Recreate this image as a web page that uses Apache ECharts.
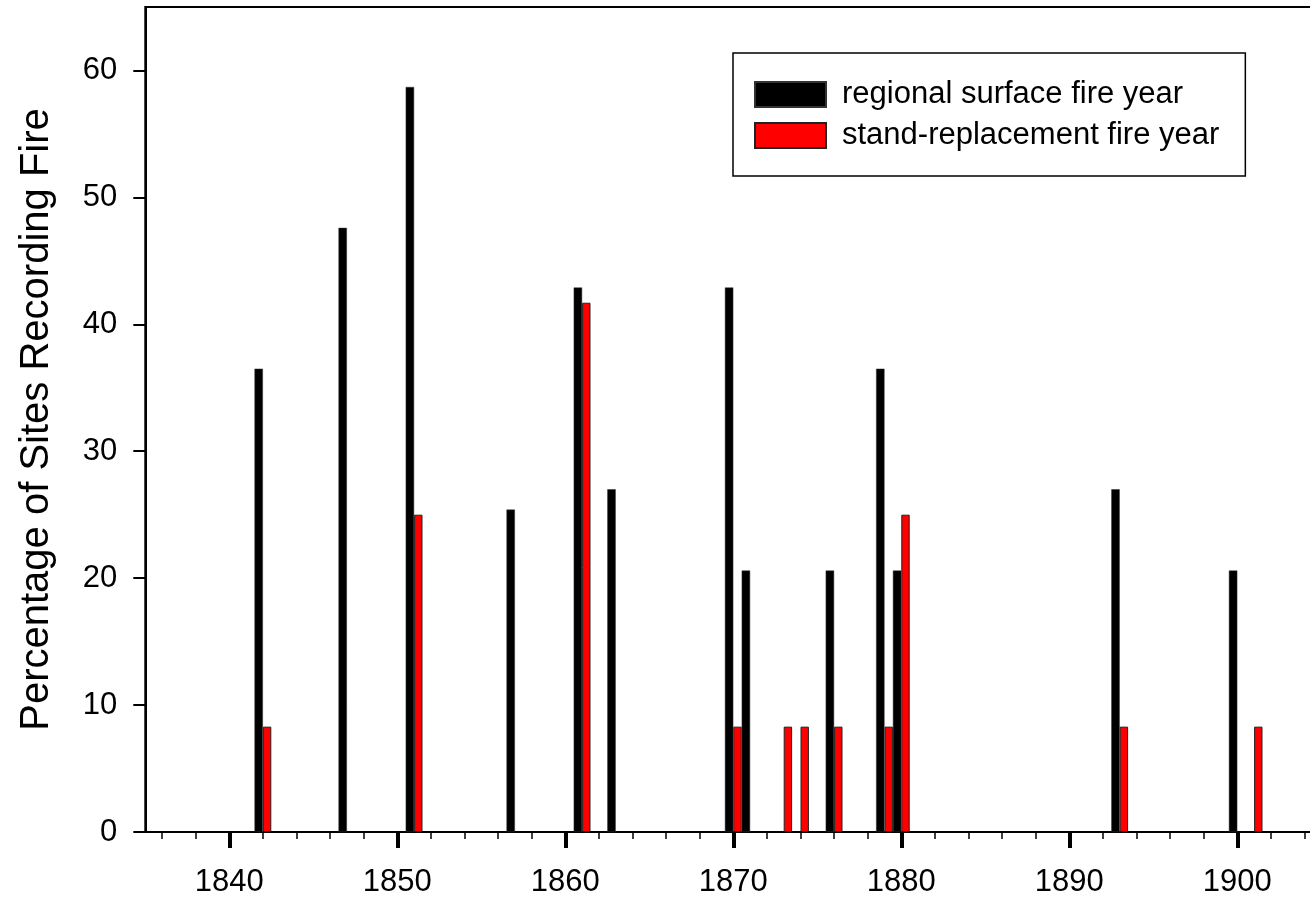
<!DOCTYPE html>
<html>
<head>
<meta charset="utf-8">
<script src="https://cdn.jsdelivr.net/npm/echarts@6/dist/echarts.min.js"></script>
<style>
  html, body { margin: 0; padding: 0; background: #fff; }
  #chart { width: 1310px; height: 899px; }
</style>
</head>
<body>
<div id="chart"></div>
<script>
// Fire years and the percentage of sites recording each fire type
const fireYears      = [1842, 1847, 1851, 1857, 1861, 1863, 1870, 1871, 1873, 1874, 1876, 1879, 1880, 1893, 1900, 1901];
const surfaceFire    = [36.5, 47.6, 58.7, 25.4, 42.9, 27.0, 42.9, 20.6, null, null, 20.6, 36.5, 20.6, 27.0, 20.6, null];
const standReplace   = [8.3,  null, 25.0, null, 41.7, null, 8.3,  null, 8.3,  8.3,  8.3,  8.3,  25.0, 8.3,  null, 8.3];

// Axis range and tick settings
const yearStart = 1835;
const yearEnd = 1905;
const yTicks = [0, 10, 20, 30, 40, 50, 60];
const seriesNames = ['regional surface fire year', 'stand-replacement fire year'];

// One category per year across the axis
const years = [];
for (let y = yearStart; y <= yearEnd; y++) years.push(String(y));

function toSeries(values) {
  const out = years.map(() => null);
  fireYears.forEach((yr, i) => {
    if (values[i] != null) out[yr - yearStart] = values[i];
  });
  return out;
}

const FONT = 'Liberation Sans, Arial, sans-serif';

const chart = echarts.init(document.getElementById('chart'), null, { renderer: 'canvas' });

chart.setOption({
  backgroundColor: '#ffffff',
  animation: false,
  grid: {
    left: 145.3,
    top: 7,
    bottom: 67,
    right: -11.3,
    outerBoundsMode: 'none',
    containLabel: false,
    show: true,
    borderColor: '#000',
    borderWidth: 2,
    backgroundColor: 'transparent'
  },
  legend: {
    orient: 'vertical',
    left: 733,
    top: 53,
    data: seriesNames,
    icon: 'rect',
    itemWidth: 71,
    itemHeight: 25,
    itemGap: 10,
    padding: [26, 26, 25, 21],
    borderColor: '#000',
    borderWidth: 1.5,
    backgroundColor: '#fff',
    textStyle: {
      fontFamily: FONT,
      fontSize: 31,
      lineHeight: 31,
      color: '#000',
      padding: [0, 0, 0, 11]
    }
  },
  xAxis: [
    {
      type: 'category',
      data: years,
      boundaryGap: false,
      position: 'bottom',
      axisLine: { show: true, lineStyle: { color: '#000', width: 2 } },
      axisTick: {
        show: true,
        length: 16,
        lineStyle: { color: '#000', width: 4 },
        interval: (idx, val) => Number(val) % 10 === 0
      },
      axisLabel: {
        show: true,
        interval: (idx, val) => Number(val) % 10 === 0,
        margin: 35,
        fontFamily: FONT,
        fontSize: 31,
        color: '#000'
      },
      splitLine: { show: false }
    },
    {
      type: 'category',
      data: years,
      boundaryGap: false,
      position: 'bottom',
      axisLine: { show: false },
      axisTick: {
        show: true,
        length: 7,
        lineStyle: { color: '#000', width: 1.5 },
        interval: (idx, val) => Number(val) % 2 === 0
      },
      axisLabel: { show: false },
      splitLine: { show: false }
    }
  ],
  yAxis: {
    type: 'value',
    min: 0,
    max: 65,
    interval: 10,
    name: 'Percentage of Sites Recording Fire',
    nameLocation: 'middle',
    nameGap: 88,
    nameTextStyle: { fontFamily: FONT, fontSize: 40, color: '#000' },
    axisLine: { show: true, lineStyle: { color: '#000', width: 2 } },
    axisTick: {
      show: true,
      length: 12,
      lineStyle: { color: '#000', width: 2 },
      customValues: yTicks
    },
    axisLabel: {
      margin: 28,
      fontFamily: FONT,
      fontSize: 31,
      color: '#000',
      customValues: yTicks
    },
    splitLine: { show: false }
  },
  series: [
    {
      name: seriesNames[0],
      type: 'bar',
      xAxisIndex: 0,
      data: toSeries(surfaceFire),
      barWidth: '50%',
      barGap: '0%',
      itemStyle: { color: '#000', borderColor: '#333', borderWidth: 0.5 }
    },
    {
      name: seriesNames[1],
      type: 'bar',
      xAxisIndex: 0,
      data: toSeries(standReplace),
      barWidth: '50%',
      barGap: '0%',
      itemStyle: { color: '#ff0000', borderColor: '#222', borderWidth: 1 }
    }
  ]
});
</script>
</body>
</html>
